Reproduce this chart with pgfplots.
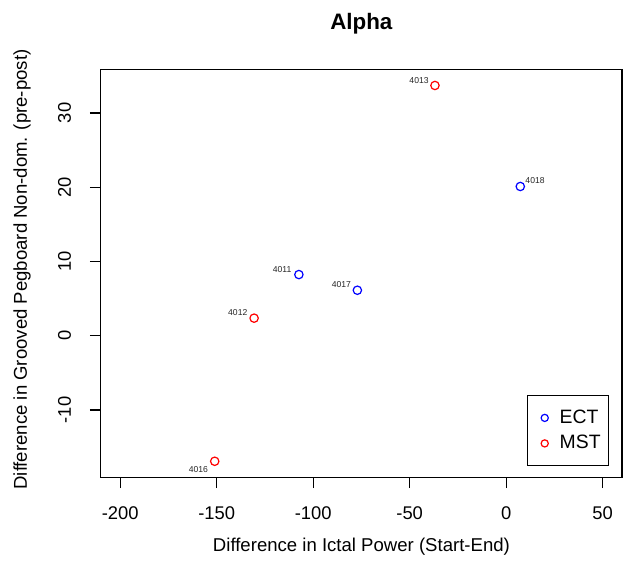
\documentclass[border=0pt]{standalone}
\usepackage{fontspec}
\setmainfont{Liberation Sans}
\usepackage{pgfplots}
\pgfplotsset{compat=1.18}
\definecolor{rblue}{RGB}{0,0,255}
\definecolor{rred}{RGB}{255,0,0}
\tikzset{
  ptlab/.style={font=\fontsize{4.3}{5}\selectfont, inner sep=0pt, text=black!85},
}
% single open circle with room for the gap before the text
\pgfplotsset{
  rleg/.style={legend image code/.code={\path[draw=none, fill=none] (0pt,-2pt) rectangle (12pt,2pt);
      \draw[##1, mark size=1.8pt] plot coordinates {(6.5pt,0pt)};}},
}

\begin{document}
\begin{tikzpicture}
\useasboundingbox (-50.5pt,-47pt) rectangle (261.5pt,239pt);
\begin{axis}[
  at={(0pt,0pt)}, anchor=south west,
  scale only axis, width=261pt, height=204pt,
  xmin=-210, xmax=60, ymin=-19.05, ymax=35.8,
  xtick={-200,-150,-100,-50,0,50},
  ytick={-10,0,10,20,30},
  tick align=outside, xtick pos=left, ytick pos=left,
  major tick length=5.5pt,
  axis line style={black, line width=0.6pt},
  tick style={black, line width=0.6pt},
  tick label style={font=\fontsize{9.2}{11}\selectfont},
  /pgf/number format/assume math mode=true,
  xticklabel style={yshift=-5.5pt},
  % rotated labels: yshift moves them left
  yticklabel style={rotate=90, anchor=base, yshift=9.5pt},
  title={\textbf{Alpha}},
  title style={at={(axis description cs:0.5,1.083)}, anchor=center,
               font=\fontsize{11.2}{13}\selectfont},
  xlabel={Difference in Ictal Power (Start-End)},
  ylabel={Difference in Grooved Pegboard Non-dom. (pre-post)},
  label style={font=\fontsize{9.3}{11}\selectfont},
  xlabel style={at={(axis description cs:0.5,-0.1716)}, anchor=center},
  ylabel style={at={(axis description cs:-0.1513,0.51)}, anchor=center},
  legend style={at={(axis description cs:0.818,0.027)}, anchor=south west,
                draw=black, line width=0.6pt,
                font=\fontsize{9.7}{11}\selectfont,
                inner xsep=2pt, inner ysep=5pt, row sep=0.5pt,
                cells={anchor=west}},
]
  % ECT subjects
  \addplot[only marks, mark=o, mark size=2.1pt, rblue, line width=0.6pt, rleg]
    coordinates {(-107.4,8.24) (-77.1,6.13) (7.3,20.1)};
  \addlegendentry{ECT}
  % MST subjects
  \addplot[only marks, mark=o, mark size=2.1pt, rred, line width=0.6pt, rleg]
    coordinates {(-36.9,33.7) (-130.6,2.37) (-151.0,-16.9)};
  \addlegendentry{MST}

  % subject ids
  \node[ptlab, anchor=east] at (axis cs:-107.4,8.24) [xshift=-3.6pt, yshift=2.6pt] {4011};
  \node[ptlab, anchor=east] at (axis cs:-77.1,6.13)  [xshift=-3pt, yshift=2.8pt] {4017};
  \node[ptlab, anchor=west] at (axis cs:7.3,20.1)    [xshift=2.4pt, yshift=3.1pt] {4018};
  \node[ptlab, anchor=east] at (axis cs:-36.9,33.7)  [xshift=-3pt, yshift=2.5pt] {4013};
  \node[ptlab, anchor=east] at (axis cs:-130.6,2.37) [xshift=-3.2pt, yshift=3pt] {4012};
  \node[ptlab, anchor=east] at (axis cs:-151.0,-16.9) [xshift=-3.2pt, yshift=-4.2pt] {4016};
\end{axis}
\end{tikzpicture}
\end{document}
